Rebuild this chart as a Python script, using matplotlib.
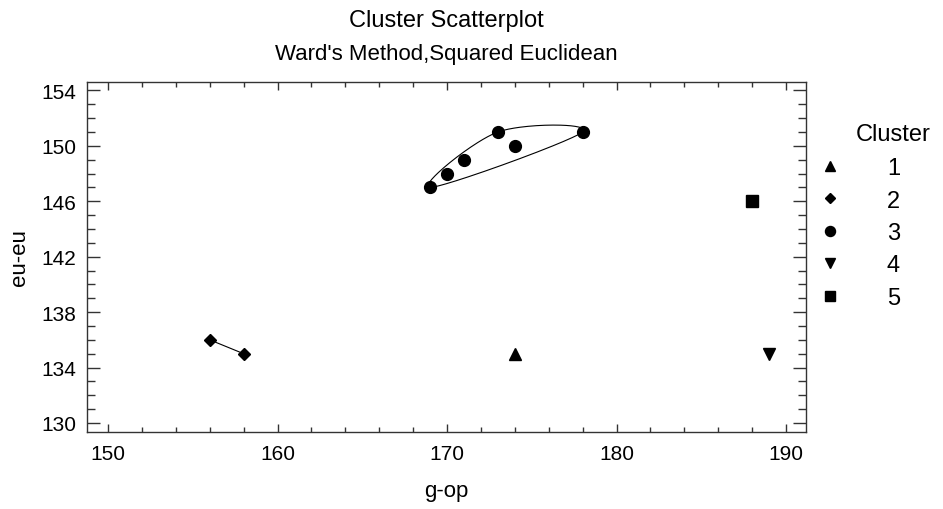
import numpy as np
import matplotlib
matplotlib.use("Agg")
import matplotlib.pyplot as plt
from matplotlib.lines import Line2D
from matplotlib.ticker import MultipleLocator

plt.rcParams['font.family'] = ['Liberation Sans', 'DejaVu Sans']

# data
g_op = [174, 156, 158, 169, 170, 171, 173, 174, 178, 189, 188]
eu_eu = [135, 136, 135, 147, 148, 149, 151, 150, 151, 135, 146]
cluster = [1, 2, 2, 3, 3, 3, 3, 3, 3, 4, 5]
cluster_ids = [1, 2, 3, 4, 5]
markers = {1: '^', 2: 'D', 3: 'o', 4: 'v', 5: 's'}
msizes = {1: 8, 2: 6.5, 3: 8.5, 4: 8, 5: 8}

g_op = np.array(g_op, float)
eu_eu = np.array(eu_eu, float)
cluster = np.array(cluster)


def hull(pts):
    pts = sorted(set(map(tuple, pts)))
    if len(pts) < 3:
        return pts

    def cross(o, a, b):
        return (a[0]-o[0])*(b[1]-o[1]) - (a[1]-o[1])*(b[0]-o[0])
    lower, upper = [], []
    for p in pts:
        while len(lower) >= 2 and cross(lower[-2], lower[-1], p) <= 0:
            lower.pop()
        lower.append(p)
    for p in reversed(pts):
        while len(upper) >= 2 and cross(upper[-2], upper[-1], p) <= 0:
            upper.pop()
        upper.append(p)
    return lower[:-1] + upper[:-1]


def smooth_closed(pts, sx, sy, n=60):
    # closed Catmull-Rom curve through hull points, in pixel-like scale
    P = np.array(pts, float) * [sx, sy]
    k = len(P)
    out = []
    for i in range(k):
        p0, p1 = P[i], P[(i+1) % k]
        m0 = (P[(i+1) % k] - P[i-1]) / 2
        m1 = (P[(i+2) % k] - P[i]) / 2
        t = np.linspace(0, 1, n)[:, None]
        h00 = 2*t**3 - 3*t**2 + 1
        h10 = t**3 - 2*t**2 + t
        h01 = -2*t**3 + 3*t**2
        h11 = t**3 - t**2
        out.append(h00*p0 + h10*m0 + h01*p1 + h11*m1)
    out = np.vstack(out)
    return out[:, 0] / sx, out[:, 1] / sy


fig = plt.figure(figsize=(9.43, 5.10), dpi=100)
ax = fig.add_axes([0.0923, 0.151, 0.7624, 0.686])

for c in cluster_ids:
    sel = cluster == c
    x, y = g_op[sel], eu_eu[sel]
    h = hull(np.column_stack([x, y]))
    if len(h) == 2:
        hx, hy = zip(*h)
        ax.plot(hx, hy, color='black', lw=0.8)
    elif len(h) >= 3:
        hx, hy = smooth_closed(h, 16.95, 13.83)
        ax.plot(hx, hy, color='black', lw=0.8)
    ax.plot(x, y, linestyle='none', marker=markers[c], ms=msizes[c],
            color='black')

ax.set_xlim(148.76, 191.18)
ax.set_ylim(129.35, 154.6)
ax.xaxis.set_major_locator(MultipleLocator(10))
ax.xaxis.set_minor_locator(MultipleLocator(2))
ax.yaxis.set_major_locator(MultipleLocator(4, offset=2))
ax.yaxis.set_minor_locator(MultipleLocator(1))
ax.tick_params(axis='both', which='both', direction='in', top=True,
               right=True, labelsize=15, width=1, color='#333333')
ax.tick_params(axis='x', which='major', length=6, pad=9)
ax.tick_params(axis='x', which='minor', length=3.6)
ax.tick_params(axis='y', which='major', length=9.4, pad=8)
ax.tick_params(axis='y', which='minor', length=5.8)
for s in ax.spines.values():
    s.set_linewidth(1)
    s.set_color('#333333')

ax.set_xlabel('g-op', fontsize=16, labelpad=12)
ax.set_ylabel('eu-eu', fontsize=16, labelpad=8)

fig.text(0.4735, 0.947, 'Cluster Scatterplot', ha='center', va='baseline',
         fontsize=17)
fig.text(0.4735, 0.882, "Ward's Method,Squared Euclidean", ha='center',
         va='baseline', fontsize=16)

handles = [Line2D([], [], linestyle='none', marker=markers[c], ms=msizes[c]*0.85,
                  color='black') for c in cluster_ids]
leg = fig.legend(handles, [str(c) for c in cluster_ids],
                 loc='center left', bbox_to_anchor=(0.868, 0.541),
                 frameon=False, fontsize=17, borderpad=0, borderaxespad=0,
                 handletextpad=1.9, labelspacing=0.44, handlelength=1)
fig.text(893/943, 1 - 135/510, 'Cluster', ha='center', va='center',
         fontsize=17)

fig.savefig('out.png', dpi=100)
